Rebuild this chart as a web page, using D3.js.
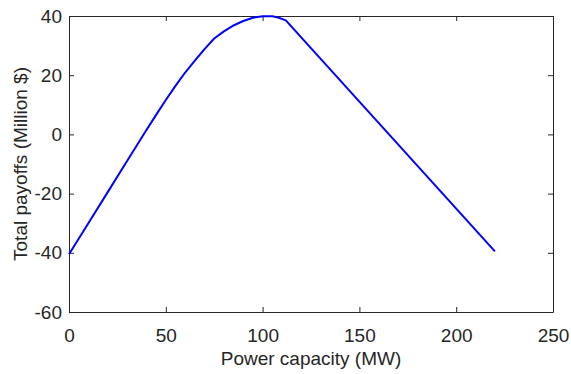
<!DOCTYPE html>
<html>
<head>
<meta charset="utf-8">
<script src="https://cdn.jsdelivr.net/npm/d3@7"></script>
<style>
	body { margin: 0; background: #fff; }
	text { font-family: Arial, "Liberation Sans", sans-serif; fill: #262626; }
</style>
</head>
<body>
<svg id="chart" width="571" height="374"></svg>
<script>
'use strict';

// capacity (MW) vs total payoffs (Million $)
var capacity = [0, 10, 20, 30, 40, 45, 50, 55, 60, 65, 70, 75, 80, 85, 90, 95, 100, 105, 108, 112, 220];
var payoffs = [-40.5, -30, -19.5, -9, 1.5, 6.6, 11.6, 16.4, 20.9, 24.9, 28.8, 32.4, 34.8, 36.8, 38.3, 39.4, 39.9, 39.9, 39.5, 38.5, -39.5];

var xTicks = [0, 50, 100, 150, 200, 250];
var yTicks = [-60, -40, -20, 0, 20, 40];

var margin = { left: 69, right: 18, top: 16, bottom: 62 };
var svg = d3.select('#chart');
var width = +svg.attr('width');
var height = +svg.attr('height');

var x = d3.scaleLinear().domain([0, 250]).range([margin.left, width - margin.right]);
var y = d3.scaleLinear().domain([-60, 40]).range([height - margin.bottom, margin.top]);

var axisColor = '#262626';
var fontSize = 19;
var plain = function(d) { return String(d); };

// box + inner ticks on all sides
function styleAxis(g) {
	g.select('.domain').attr('stroke', axisColor);
	g.selectAll('.tick line').attr('stroke', axisColor);
	g.selectAll('.tick text').attr('font-size', fontSize).attr('fill', axisColor);
}

svg.append('g')
	.attr('transform', 'translate(0,' + y.range()[0] + ')')
	.call(d3.axisBottom(x).tickValues(xTicks).tickFormat(plain).tickSizeInner(-5).tickSizeOuter(0).tickPadding(17))
	.call(styleAxis);

svg.append('g')
	.attr('transform', 'translate(0,' + y.range()[1] + ')')
	.call(d3.axisTop(x).tickValues(xTicks).tickSizeInner(-5).tickSizeOuter(0).tickFormat(''))
	.call(styleAxis);

svg.append('g')
	.attr('transform', 'translate(' + x.range()[0] + ',0)')
	.call(d3.axisLeft(y).tickValues(yTicks).tickFormat(plain).tickSizeInner(-5).tickSizeOuter(0).tickPadding(7))
	.call(styleAxis);

svg.append('g')
	.attr('transform', 'translate(' + x.range()[1] + ',0)')
	.call(d3.axisRight(y).tickValues(yTicks).tickSizeInner(-5).tickSizeOuter(0).tickFormat(''))
	.call(styleAxis);

var line = d3.line()
	.x(function(d, i) { return x(capacity[i]); })
	.y(function(d) { return y(d); });

svg.append('path')
	.datum(payoffs)
	.attr('fill', 'none')
	.attr('stroke', '#0000ff')
	.attr('stroke-width', 2)
	.attr('stroke-linejoin', 'round')
	.attr('d', line);

svg.append('text')
	.attr('x', (x.range()[0] + x.range()[1]) / 2)
	.attr('y', 365)
	.attr('text-anchor', 'middle')
	.attr('font-size', fontSize)
	.text('Power capacity (MW)');

svg.append('text')
	.attr('transform', 'translate(27,' + ((y.range()[0] + y.range()[1]) / 2) + ') rotate(-90)')
	.attr('text-anchor', 'middle')
	.attr('font-size', fontSize)
	.text('Total payoffs (Million $)');
</script>
</body>
</html>
